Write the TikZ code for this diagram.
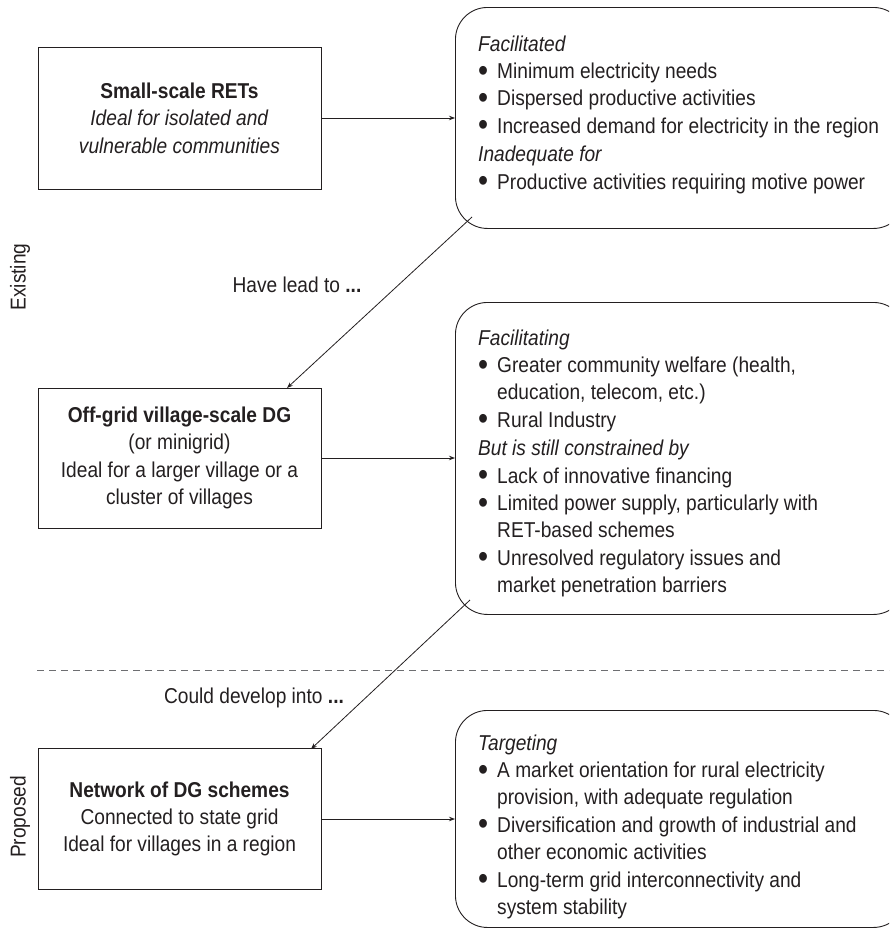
\documentclass[tikz,border=0pt]{standalone}
\usepackage{fontspec}
\setmainfont{Liberation Sans}[FakeStretch=0.89]
\usetikzlibrary{arrows.meta}
\definecolor{ink}{HTML}{231F20}
\definecolor{dashc}{HTML}{6D6E71}
\newcommand\bu{\makebox[19pt][l]{\raisebox{-2.6pt}{\scalebox{1.5}{\textbullet}}}}
\newcommand\ind{\hspace*{19pt}}
\newenvironment{lines}{\begin{tabular}[t]{@{}l@{}}}{\end{tabular}}
\begin{document}
\begin{tikzpicture}[x=1pt,y=-1pt,
  txt/.style={font=\fontsize{21.5}{27.4}\selectfont, text=ink, inner sep=0pt},
  lbox/.style={draw=ink, line width=0.9pt, inner sep=0pt, minimum width=283pt},
  rbox/.style={draw=ink, line width=0.9pt, rounded corners=32pt, minimum width=450pt, anchor=north west, inner sep=0pt},
  arr/.style={draw=ink, line width=0.8pt, -{Stealth[length=6pt,width=4.5pt]}},
  dashline/.style={draw=dashc, line width=0.8pt, dash pattern=on 7pt off 5pt},
]
\useasboundingbox (0,0) rectangle (889,929);
\clip (0,0) rectangle (889,929);

% left boxes
\node[lbox, txt, align=center, minimum height=142pt] (l1) at (179.5,118)
  {\textbf{Small-scale RETs}\\\textit{Ideal for isolated and}\\\textit{vulnerable communities}};
\node[lbox, txt, align=center, minimum height=140pt] (l2) at (179.5,458)
  {\textbf{Off-grid village-scale DG}\\(or minigrid)\\Ideal for a larger village or a\\cluster of villages};
\node[lbox, txt, align=center, minimum height=141pt] (l3) at (179.5,819)
  {\textbf{Network of DG schemes}\\Connected to state grid\\Ideal for villages in a region};

% right boxes
\node[rbox, minimum height=221pt] (r1) at (455,7) {};
\node[rbox, minimum height=312pt] (r2) at (455,302) {};
\node[rbox, minimum height=217pt] (r3) at (455,710) {};

\node[txt, anchor=base west] (r1t) at (478,51)
  {\begin{lines}
   \textit{Facilitated}\\
   \bu Minimum electricity needs\\
   \bu Dispersed productive activities\\
   \bu Increased demand for electricity in the region\\[1pt]
   \textit{Inadequate for}\\
   \bu Productive activities requiring motive power
   \end{lines}};
\node[txt, anchor=base west] (r2t) at (478,345)
  {\begin{lines}
   \textit{Facilitating}\\
   \bu Greater community welfare (health,\\
   \ind education, telecom, etc.)\\
   \bu Rural Industry\\[1pt]
   \textit{But is still constrained by}\\
   \bu Lack of innovative financing\\
   \bu Limited power supply, particularly with\\
   \ind RET-based schemes\\
   \bu Unresolved regulatory issues and\\
   \ind market penetration barriers
   \end{lines}};
\node[txt, anchor=base west] (r3t) at (478,750)
  {\begin{lines}
   \textit{Targeting}\\
   \bu A market orientation for rural electricity\\
   \ind provision, with adequate regulation\\
   \bu Diversification and growth of industrial and\\
   \ind other economic activities\\
   \bu Long-term grid interconnectivity and\\
   \ind system stability
   \end{lines}};

% horizontal connectors
\draw[arr] (l1.east) -- (l1.east -| r1.west);
\draw[arr] (l2.east) -- (l2.east -| r2.west);
\draw[arr] (l3.east) -- (l3.east -| r3.west);

% diagonal connectors
\coordinate (d1s) at (472,217);
\coordinate (d1e) at (287,388);
\coordinate (d2s) at (470,600);
\coordinate (d2e) at (311,749);
\draw[arr] (d1s) -- (d1e);
\draw[arr] (d2s) -- (d2e);

% separator
\coordinate (ds) at (37,670);
\coordinate (de) at (889,670);
\draw[dashline] (ds) -- (de);

% labels
\node[txt] (lab1) at (297,285) {Have lead to \textbf{...}};
\node[txt] (lab2) at (254,698) {Could develop into \textbf{...}};
\node[txt, rotate=90] (ex) at (20,277) {Existing};
\node[txt, rotate=90] (pr) at (20,817) {Proposed};
\end{tikzpicture}
\end{document}
